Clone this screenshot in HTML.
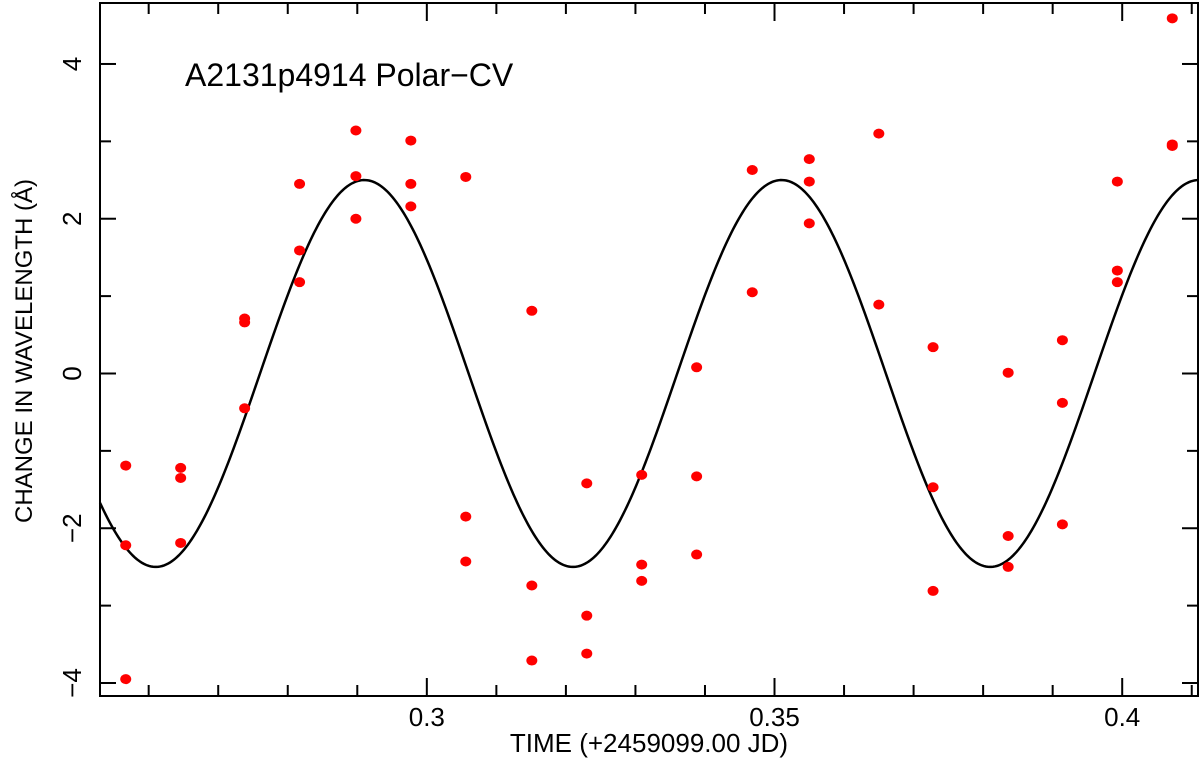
<!DOCTYPE html>
<html><head><meta charset="utf-8"><style>
html,body{margin:0;padding:0;background:#fff;}
svg{display:block;font-family:"Liberation Sans",Arial,sans-serif;}
</style></head><body>
<svg id="chart" width="1200" height="759">
<g id="axes"></g><g id="curve"></g><g id="points"></g>
<text x="185" y="86" font-size="32">A2131p4914 Polar−CV</text>
<text x="649" y="752" font-size="26" text-anchor="middle">TIME (+2459099.00 JD)</text>
<text transform="translate(32,351) rotate(-90)" font-size="24" text-anchor="middle">CHANGE IN WAVELENGTH (Å)</text>
</svg>
<script>
const xTicksMajor=[0.3,0.35,0.4];
const xTickLabels=["0.3","0.35","0.4"];
const yTicksMajor=[-4,-2,0,2,4];
const yTickLabels=["−4","−2","0","2","4"];
const ptTimes=[0.2567,0.2567,0.2567,0.2646,0.2646,0.2646,0.2738,0.2738,0.2738,0.2817,0.2817,0.2817,0.2898,0.2898,0.2898,0.2977,0.2977,0.2977,0.3056,0.3056,0.3056,0.3151,0.3151,0.3151,0.3230,0.3230,0.3230,0.3309,0.3309,0.3309,0.3388,0.3388,0.3388,0.3468,0.3468,0.3550,0.3550,0.3550,0.3650,0.3650,0.3728,0.3728,0.3728,0.3836,0.3836,0.3836,0.3914,0.3914,0.3914,0.3993,0.3993,0.3993,0.4072,0.4072,0.4072];
const ptValues=[-1.19,-2.22,-3.95,-1.22,-1.35,-2.19,0.71,0.66,-0.45,2.45,1.59,1.18,3.14,2.55,2.0,3.01,2.45,2.16,2.54,-1.85,-2.43,0.81,-2.74,-3.71,-1.42,-3.13,-3.62,-1.31,-2.47,-2.68,0.08,-1.33,-2.34,2.63,1.05,2.77,2.48,1.94,3.10,0.89,0.34,-1.47,-2.81,0.01,-2.1,-2.5,0.43,-0.38,-1.95,2.48,1.33,1.18,4.59,2.96,2.94];
const fitAmp=2.5, fitPeriod=0.0600, fitT0=0.26101;
const xMin=0.2530, xMax=0.4109, yMin=-4.168, yMax=4.788;
const L=100,R=1198,T=3,B=696;
const sx=v=>L+(v-xMin)/(xMax-xMin)*(R-L);
const sy=v=>B-(v-yMin)/(yMax-yMin)*(B-T);
const NS="http://www.w3.org/2000/svg";
function mk(tag,parent,attrs){const e=document.createElementNS(NS,tag);for(const k in attrs)e.setAttribute(k,attrs[k]);parent.appendChild(e);return e;}
const axes=document.getElementById('axes');
const frame=mk('rect',axes,{x:L,y:T,width:R-L,height:B-T,fill:'none',stroke:'#000','stroke-width':2});


for(let i=26;i<=41;i++){const v=i/100;const major=(i%5===0);const len=major?18:11;const x=sx(v);
 const t1=mk('line',axes,{x1:x,x2:x,y1:B,y2:B-len,stroke:'#000','stroke-width':2});
 
 
 const t2=mk('line',axes,{x1:x,x2:x,y1:T,y2:T+len,stroke:'#000','stroke-width':2});
 
 }
xTicksMajor.forEach((v,i)=>{const t=mk('text',axes,{x:sx(v),y:B+30,'font-size':26,'text-anchor':'middle'});t.textContent=xTickLabels[i];
 
 });
for(let v=-4;v<=4;v++){const major=(v%2===0);const len=major?16:11;const y=sy(v);
 const t1=mk('line',axes,{x1:L,x2:L+len,y1:y,y2:y,stroke:'#000','stroke-width':2});
 
 
 const t2=mk('line',axes,{x1:R,x2:R-len,y1:y,y2:y,stroke:'#000','stroke-width':2});
 
 }
yTicksMajor.forEach((v,i)=>{const t=mk('text',axes,{transform:`translate(${L-19},${sy(v)}) rotate(-90)`,'font-size':26,'text-anchor':'middle'});t.textContent=yTickLabels[i];
 
 });
let d='';for(let i=0;i<=600;i++){const t=xMin+(xMax-xMin)*i/600;const v=-fitAmp*Math.cos(2*Math.PI*(t-fitT0)/fitPeriod);d+=(i?'L':'M')+sx(t).toFixed(2)+' '+sy(v).toFixed(2);}
const c=mk('path',document.getElementById('curve'),{d:d,fill:'none',stroke:'#000','stroke-width':2.5});


const pg=document.getElementById('points');
ptTimes.forEach((t,i)=>{const p=mk('ellipse',pg,{cx:sx(t),cy:sy(ptValues[i]),rx:5.5,ry:5,fill:'#f00'});
 
 });
</script>
</body></html>
